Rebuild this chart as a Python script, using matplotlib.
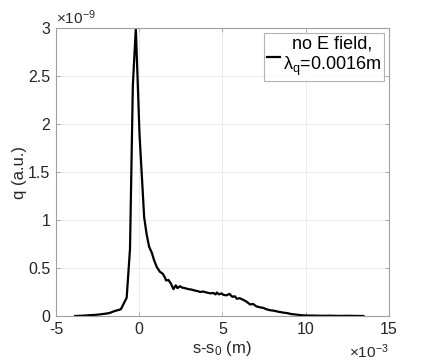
import matplotlib
matplotlib.use("Agg")
import matplotlib.pyplot as plt

plt.rcParams['font.family'] = ['Liberation Sans', 'DejaVu Sans']
plt.rcParams['mathtext.fontset'] = 'custom'
plt.rcParams['mathtext.rm'] = 'Liberation Sans'
plt.rcParams['mathtext.it'] = 'Liberation Sans'

# s - s0 in units of 1e-3 m, q in units of 1e-9 (a.u.)
s_vals = [-3.85, -3.4, -3.0, -2.6, -2.2, -1.8, -1.5, -1.1, -0.75, -0.55, -0.38, -0.2,
          0.02, 0.3, 0.45, 0.6, 0.76, 0.9, 1.06, 1.25, 1.42, 1.55, 1.62, 1.76, 1.9,
          2.06, 2.2, 2.3, 2.45, 2.6, 2.76, 2.95, 3.15, 3.35, 3.5, 3.67, 3.85, 4.05,
          4.27, 4.45, 4.6, 4.67, 4.8, 4.95, 5.07, 5.25, 5.43, 5.6, 5.75, 5.87, 6.05,
          6.27, 6.45, 6.67, 6.85, 7.05, 7.27, 7.45, 7.65, 7.87, 8.1, 8.35, 8.67, 8.9,
          9.15, 9.47, 9.75, 10.07, 10.5, 11.0, 11.5, 12.0, 12.5, 13.0, 13.48]
q_vals = [0.0, 0.003, 0.008, 0.012, 0.02, 0.03, 0.05, 0.07, 0.19, 0.7, 2.4, 3.0,
          1.9, 1.03, 0.85, 0.72, 0.66, 0.58, 0.51, 0.46, 0.44, 0.40, 0.37, 0.375, 0.34,
          0.28, 0.32, 0.29, 0.31, 0.295, 0.29, 0.28, 0.275, 0.265, 0.26, 0.25, 0.255, 0.245,
          0.236, 0.24, 0.225, 0.245, 0.225, 0.235, 0.22, 0.215, 0.23, 0.2, 0.205, 0.18, 0.185,
          0.167, 0.15, 0.12, 0.125, 0.1, 0.09, 0.085, 0.07, 0.06, 0.055, 0.045, 0.035, 0.03,
          0.02, 0.014, 0.008, 0.005, 0.004, 0.002, 0.003, 0.001, 0.002, 0.001, 0.0]

x_ticks = [-5, 0, 5, 10, 15]
y_ticks = [0, 0.5, 1, 1.5, 2, 2.5, 3]
y_tick_labels = ['0', '0.5', '1', '1.5', '2', '2.5', '3']

fig = plt.figure(figsize=(4.29, 3.64), dpi=100)
ax = fig.add_axes([0.1305, 0.1319, 0.7755, 0.7911])

ax.plot(s_vals, q_vals, color='black', lw=1.6,
        label='no E field,\n\u03bb$_\\mathregular{q}$=0.0016m')

ax.set_xlim(-5, 15)
ax.set_ylim(0, 3)
ax.set_xticks(x_ticks)
ax.set_xticklabels([str(t) for t in x_ticks])
ax.set_yticks(y_ticks)
ax.set_yticklabels(y_tick_labels)
ax.grid(True, color='#ebebeb', lw=0.7)
ax.set_axisbelow(True)
for sp in ax.spines.values():
    sp.set_color('#a0a0a0')
    sp.set_linewidth(0.8)
ax.tick_params(direction='in', length=3, width=0.6, color='#a0a0a0',
               labelsize=11.5, labelcolor='#262626', top=True, right=True, pad=4)

ax.set_xlabel('s-s$_\\mathregular{0}$ (m)', fontsize=12, color='#262626', labelpad=2)
ax.set_ylabel('q (a.u.)', fontsize=12, color='#262626', labelpad=1)

ax.text(0.0, 1.005, '\u00d710$^\\mathregular{-9}$', transform=ax.transAxes, fontsize=11,
        color='#262626', ha='left', va='bottom')
ax.text(1.0, -0.09, '\u00d710$^\\mathregular{-3}$', transform=ax.transAxes, fontsize=11,
        color='#262626', ha='right', va='top')

leg = ax.legend(loc='upper right', fontsize=13, frameon=True, fancybox=False,
                handlelength=0.7, handletextpad=0.2, borderpad=0.15,
                borderaxespad=0.25, labelspacing=0.05)
leg.get_frame().set_edgecolor('#a0a0a0')
leg.get_frame().set_linewidth(0.8)
for t in leg.get_texts():
    t.set_ha('center')

fig.savefig('out.png', dpi=100)
